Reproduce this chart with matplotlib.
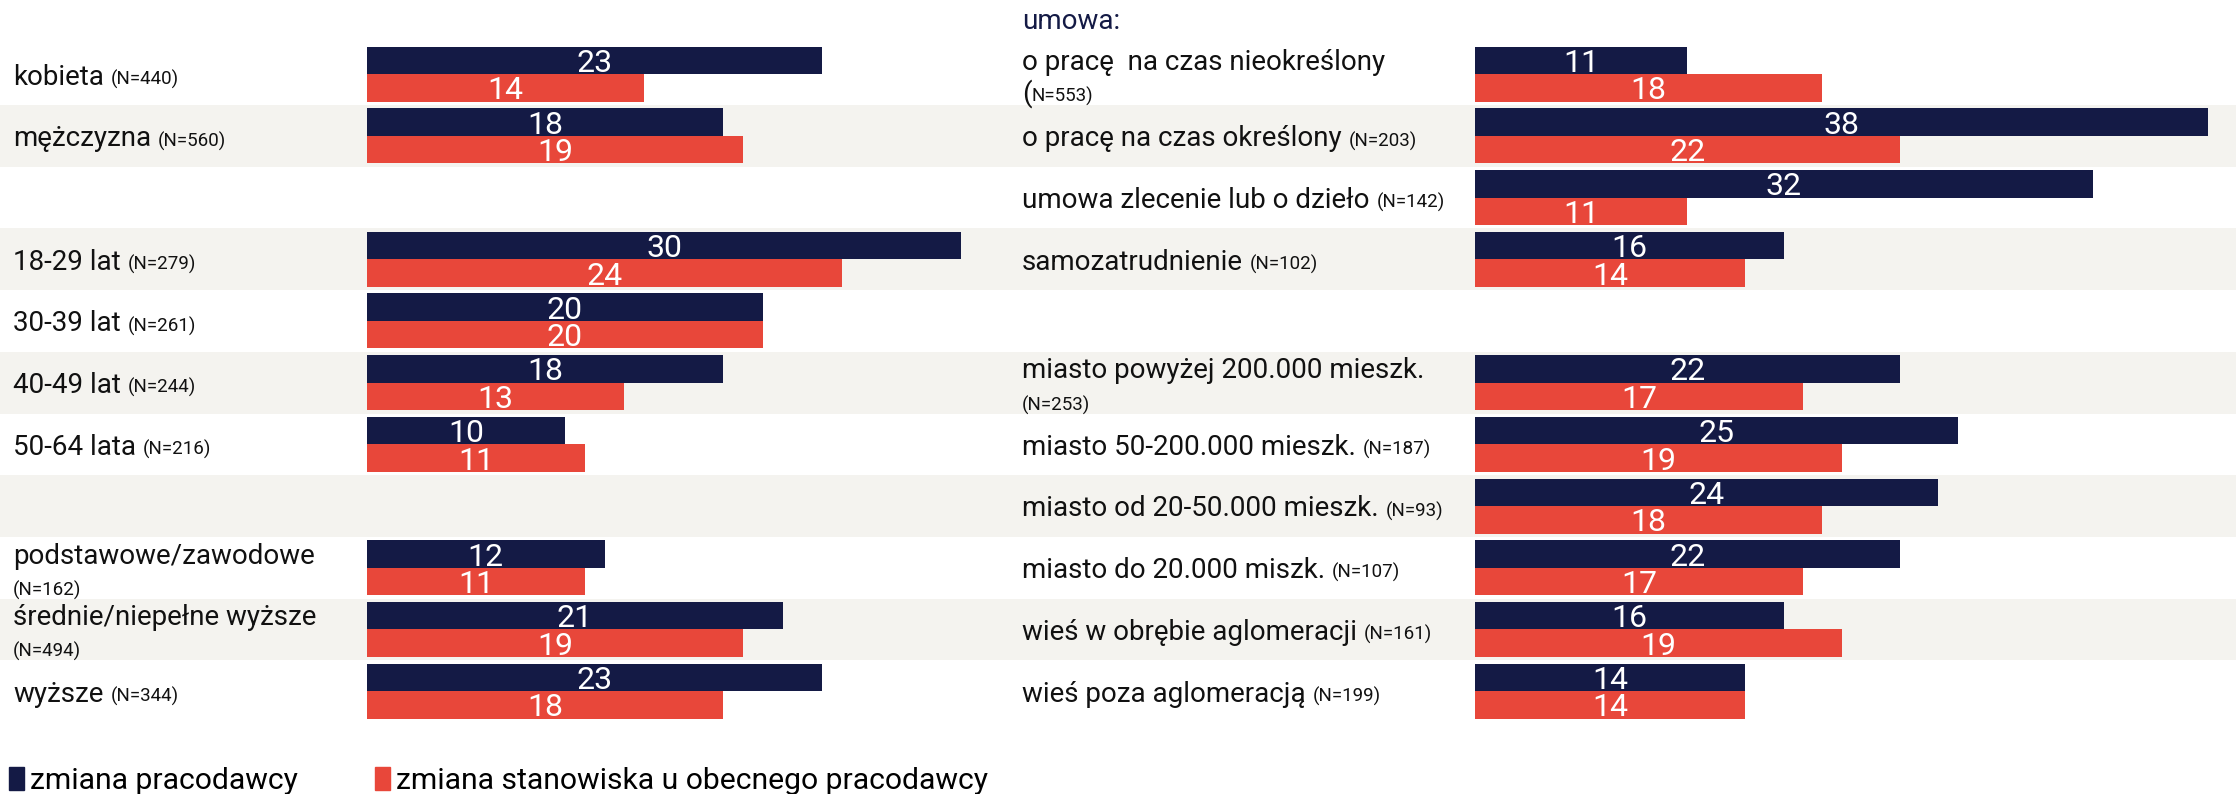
import numpy as np
import matplotlib
matplotlib.use("Agg")
import matplotlib.pyplot as plt
from matplotlib.patches import Patch

plt.rcParams["font.family"] = ["Roboto", "DejaVu Sans"]

# data (% of respondents)
left_labels = ["kobieta", "mężczyzna", "", "18-29 lat", "30-39 lat", "40-49 lat", "50-64 lata", "",
               "podstawowe/zawodowe", "średnie/niepełne wyższe", "wyższe"]
left_n = ["(N=440)", "(N=560)", "", "(N=279)", "(N=261)", "(N=244)", "(N=216)", "",
          "(N=162)", "(N=494)", "(N=344)"]
left_wrap = [False, False, False, False, False, False, False, False, True, True, False]
left_employer = [23, 18, np.nan, 30, 20, 18, 10, np.nan, 12, 21, 23]
left_position = [14, 19, np.nan, 24, 20, 13, 11, np.nan, 11, 19, 18]

right_labels = ["o pracę  na czas nieokreślony", "o pracę na czas określony", "umowa zlecenie lub o dzieło",
                "samozatrudnienie", "", "miasto powyżej 200.000 mieszk.", "miasto 50-200.000 mieszk.",
                "miasto od 20-50.000 mieszk.", "miasto do 20.000 miszk.", "wieś w obrębie aglomeracji",
                "wieś poza aglomeracją"]
right_n = ["N=553)", "(N=203)", "(N=142)", "(N=102)", "", "(N=253)", "(N=187)", "(N=93)", "(N=107)",
           "(N=161)", "(N=199)"]
right_wrap = [True, False, False, False, False, True, False, False, False, False, False]
right_employer = [11, 38, 32, 16, np.nan, 22, 25, 24, 22, 16, 14]
right_position = [18, 22, 11, 14, np.nan, 17, 19, 18, 17, 19, 14]

series_names = ["zmiana pracodawcy", "zmiana stanowiska u obecnego pracodawcy"]
navy = "#141a45"
red = "#e8473a"
band = "#f4f3ef"

W, H = 2236, 794
fig = plt.figure(figsize=(W / 100, H / 100), dpi=100)

n_rows = 11
row_top, row_h = 43.3, 61.7
ax_bottom = (H - (row_top + n_rows * row_h)) / H
ax_height = n_rows * row_h / H

# shaded row bands across the whole width
bg = fig.add_axes([0, ax_bottom, 1, ax_height], zorder=0)
bg.set_ylim(n_rows - 0.5, -0.5)
for i in range(1, n_rows, 2):
    bg.axhspan(i - 0.5, i + 0.5, color=band, lw=0)
bg.axis("off")

bar_h = 0.446
big, small = 20, 13.5


def panel(x0_px, scale, xmax, labels, ns, wraps, emp, pos, label_x_px):
    ax = fig.add_axes([x0_px / W, ax_bottom, xmax * scale / W, ax_height], zorder=2)
    ax.patch.set_alpha(0)
    y = np.arange(n_rows)
    ax.barh(y - bar_h / 2, emp, height=bar_h, color=navy, lw=0)
    ax.barh(y + bar_h / 2, pos, height=bar_h, color=red, lw=0)
    for yy, a, b in zip(y, emp, pos):
        for v, yc in ((a, yy - bar_h / 2), (b, yy + bar_h / 2)):
            if np.isnan(v):
                continue
            ax.annotate(f"{v:.0f}", xy=(v / 2, yc), xytext=(0, -8.3), textcoords="offset points",
                        ha="center", va="baseline", color="white", fontsize=23)
    ax.set_xlim(0, xmax)
    ax.set_ylim(n_rows - 0.5, -0.5)
    ax.axis("off")

    fig.canvas.draw()
    r = fig.canvas.get_renderer()
    for i, (lab, n, wrap) in enumerate(zip(labels, ns, wraps)):
        if not lab:
            continue
        xy = (label_x_px / W, i)
        kw = dict(xycoords=("figure fraction", "data"), textcoords="offset points",
                  va="baseline", color="#111111")
        if wrap:
            ax.annotate(lab, xy=xy, xytext=(0, 3), fontsize=big, **kw)
            if n.startswith("("):
                ax.annotate(n, xy=xy, xytext=(0, -20), fontsize=small, **kw)
            else:
                p = ax.annotate("(", xy=xy, xytext=(0, -20), fontsize=big, **kw)
                bb = p.get_window_extent(r)
                ax.annotate(n, xy=(bb.x1 / W, i), xytext=(0, -20), fontsize=small, **kw)
        else:
            t = ax.annotate(lab, xy=xy, xytext=(0, -7.5), fontsize=big, **kw)
            bb = t.get_window_extent(r)
            ax.annotate(n, xy=((bb.x1 + 7) / W, i), xytext=(0, -7.5), fontsize=small, **kw)
    return ax


axl = panel(367, 19.8, 32, left_labels, left_n, left_wrap, left_employer, left_position, 13)
axr = panel(1475, 19.3, 39, right_labels, right_n, right_wrap, right_employer, right_position, 1022)

fig.text(1022 / W, 1 - 29 / H, "umowa:", fontsize=big, color=navy, va="baseline")

fig.legend(handles=[Patch(color=navy), Patch(color=red)], labels=series_names,
           loc="upper left", bbox_to_anchor=(9 / W, 1 - 767 / H), ncol=2, frameon=False,
           fontsize=21.7, handlelength=0.5, handleheight=0.8, handletextpad=0.2,
           columnspacing=2.55, borderaxespad=0, borderpad=0)

fig.savefig("out.png", dpi=100)
